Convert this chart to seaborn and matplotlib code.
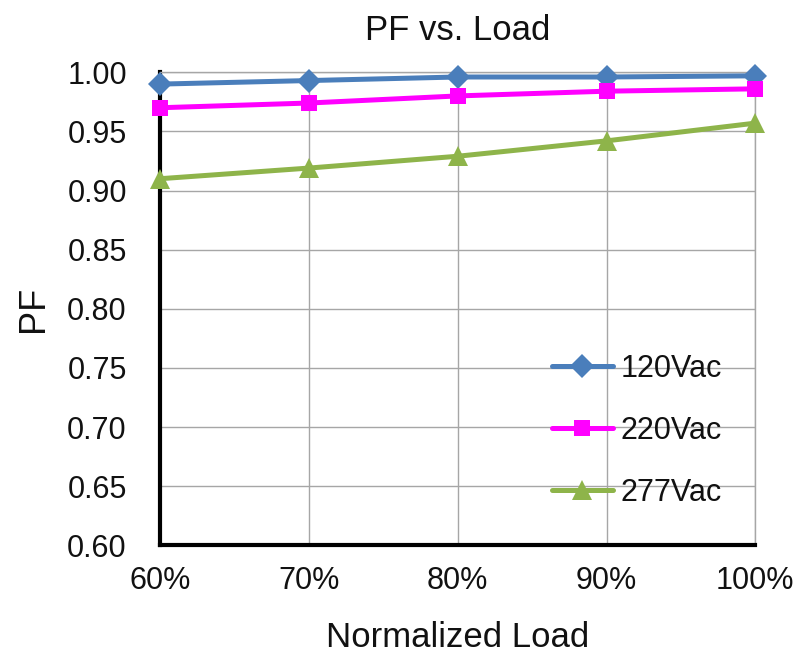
import pandas as pd
import matplotlib.pyplot as plt
import seaborn as sns

loads = ["60%", "70%", "80%", "90%", "100%"]
pf_120 = [0.990, 0.993, 0.996, 0.996, 0.997]
pf_220 = [0.970, 0.974, 0.980, 0.984, 0.986]
pf_277 = [0.910, 0.919, 0.929, 0.942, 0.957]
series = ["120Vac", "220Vac", "277Vac"]
y_ticks = [0.60, 0.65, 0.70, 0.75, 0.80, 0.85, 0.90, 0.95, 1.00]

rows = []
for name, vals in zip(series, [pf_120, pf_220, pf_277]):
    for i, v in enumerate(vals):
        rows.append({"pos": i, "PF": v, "Series": name})
df = pd.DataFrame(rows)

sns.set_style("white")
plt.rcParams["font.family"] = ["Liberation Sans", "DejaVu Sans"]
plt.rcParams["text.color"] = "#111111"
plt.rcParams["axes.labelcolor"] = "#111111"
plt.rcParams["xtick.labelcolor"] = "#111111"
plt.rcParams["ytick.labelcolor"] = "#111111"

fig, ax = plt.subplots(figsize=(8.01, 6.57), dpi=100)
palette = {"120Vac": "#4a7ebb", "220Vac": "#ff00ff", "277Vac": "#8eb44a"}
markers = {"120Vac": "D", "220Vac": "s", "277Vac": "^"}
sizes = {"120Vac": 12, "220Vac": 11, "277Vac": 15}

for name in series:
    sub = df[df["Series"] == name]
    sns.lineplot(data=sub, x="pos", y="PF", color=palette[name], marker=markers[name],
                 markersize=sizes[name], markeredgewidth=0, linewidth=3.6,
                 label=name, ax=ax, clip_on=False, zorder=3)

ax.set_xlim(0, 4)
ax.set_ylim(0.60, 1.00)
ax.set_xticks(range(len(loads)))
ax.set_xticklabels(loads)
ax.set_yticks(y_ticks)
ax.set_yticklabels([f"{t:.2f}" for t in y_ticks])
ax.grid(True, color="#a6a6a6", linewidth=1)
ax.set_axisbelow(True)

for s in ["top", "right"]:
    ax.spines[s].set_color("#a6a6a6")
    ax.spines[s].set_linewidth(1)
for s in ["left", "bottom"]:
    ax.spines[s].set_color("black")
    ax.spines[s].set_linewidth(3)

ax.tick_params(direction="in", length=6, width=2, labelsize=22, color="black")
ax.tick_params(axis="x", pad=15)
ax.tick_params(axis="y", pad=24)
ax.set_title("PF vs. Load", fontsize=25, pad=23)
ax.set_xlabel("Normalized Load", fontsize=25, labelpad=18)
ax.set_ylabel("PF", fontsize=26, labelpad=12)

ax.legend(loc="lower right", frameon=False, fontsize=22, handlelength=2.0,
          labelspacing=1.05, handletextpad=0.25, bbox_to_anchor=(0.99, 0.021))

plt.subplots_adjust(left=0.2, right=0.943, top=0.89, bottom=0.17)
plt.savefig("out.png", dpi=100)
plt.close()
